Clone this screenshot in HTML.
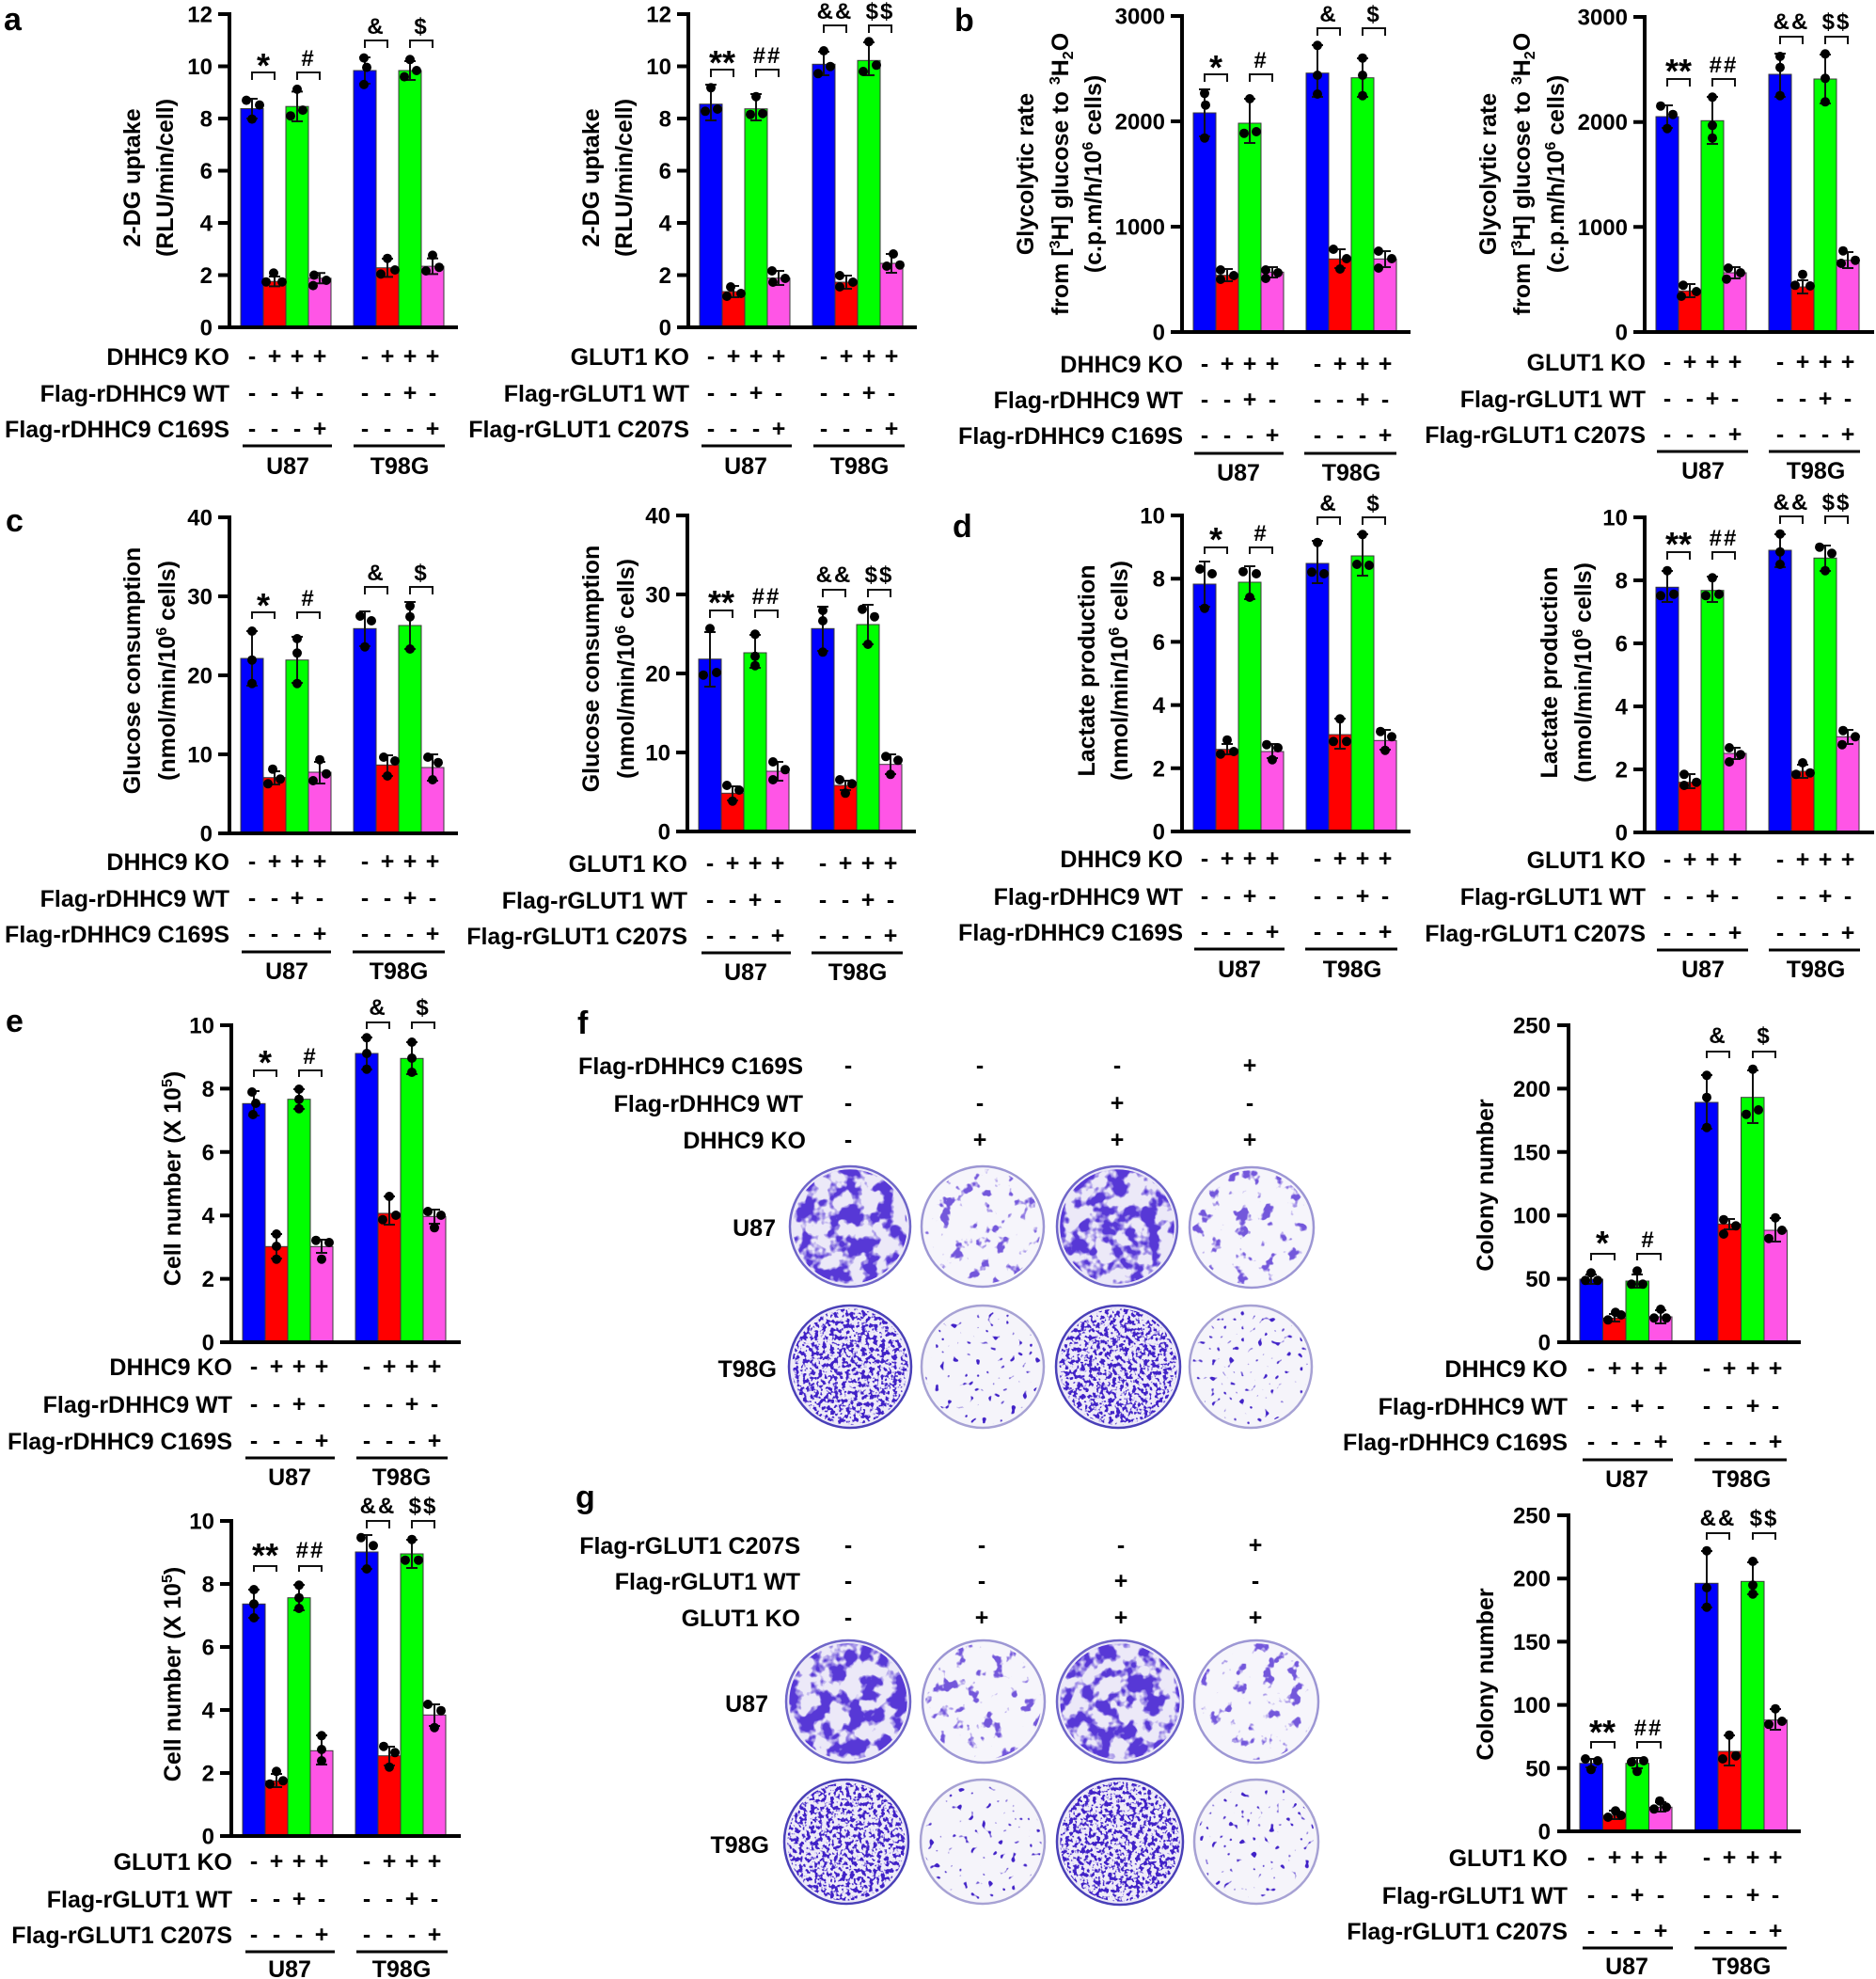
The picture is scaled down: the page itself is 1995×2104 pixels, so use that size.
<!DOCTYPE html>
<html><head><meta charset="utf-8">
<style>
html,body{margin:0;padding:0;background:#fff;}
svg{display:block;}
text{font-family:"Liberation Sans",Arial,sans-serif;font-weight:bold;fill:#000;}
.tk{font-size:24px;text-anchor:end;}
.lb{font-size:25px;text-anchor:end;}
.sg{font-size:25px;text-anchor:middle;}
.cl{font-size:25px;text-anchor:middle;}
.tt{font-size:25px;text-anchor:middle;}
.st{font-size:36px;text-anchor:middle;}
.sy{font-size:24px;text-anchor:middle;letter-spacing:2px;}
.pl{font-size:34px;}
.bar{stroke:#3a3a3a;stroke-width:1;}
.b{fill:#0000ff;}.r{fill:#ff0000;}.g{fill:#00ff00;}.p{fill:#ff55e6;}
.eb{stroke:#111;stroke-width:2;fill:none;}
.ax{stroke:#000;stroke-width:4;fill:none;}
.ul{stroke:#000;stroke-width:3;fill:none;}
.br{stroke:#111;stroke-width:2;fill:none;}
circle.d{fill:#000;}
</style></head>
<body>
<svg width="1995" height="2104" viewBox="0 0 1995 2104" xmlns="http://www.w3.org/2000/svg">
<defs>
<clipPath id="ell" clipPathUnits="objectBoundingBox"><ellipse cx="0.5" cy="0.5" rx="0.475" ry="0.475"/></clipPath>
<filter id="fud" x="-5%" y="-5%" width="110%" height="110%" color-interpolation-filters="sRGB">
<feTurbulence type="fractalNoise" baseFrequency="0.06" numOctaves="3" seed="4"/>
<feColorMatrix type="matrix" values="0 0 0 0 0.34  0 0 0 0 0.22  0 0 0 0 0.84  7 0 0 0 -3.1"/>
</filter>
<filter id="fus" x="-5%" y="-5%" width="110%" height="110%" color-interpolation-filters="sRGB">
<feTurbulence type="fractalNoise" baseFrequency="0.07" numOctaves="3" seed="9"/>
<feColorMatrix type="matrix" values="0 0 0 0 0.45  0 0 0 0 0.34  0 0 0 0 0.86  10 0 0 0 -6.0"/>
</filter>
<filter id="ftd" x="-5%" y="-5%" width="110%" height="110%" color-interpolation-filters="sRGB">
<feTurbulence type="fractalNoise" baseFrequency="0.24" numOctaves="2" seed="3"/>
<feColorMatrix type="matrix" values="0 0 0 0 0.25  0 0 0 0 0.13  0 0 0 0 0.78  10 0 0 0 -4.9"/>
</filter>
<filter id="fts" x="-5%" y="-5%" width="110%" height="110%" color-interpolation-filters="sRGB">
<feTurbulence type="fractalNoise" baseFrequency="0.16" numOctaves="1" seed="7"/>
<feColorMatrix type="matrix" values="0 0 0 0 0.25  0 0 0 0 0.13  0 0 0 0 0.78  16 0 0 0 -10.4"/>
</filter>
</defs>

<!-- panel letters -->
<text class="pl" x="4" y="32">a</text>
<text class="pl" x="1015" y="33">b</text>
<text class="pl" x="6" y="565">c</text>
<text class="pl" x="1013" y="571">d</text>
<text class="pl" x="6" y="1097">e</text>
<text class="pl" x="614" y="1099">f</text>
<text class="pl" x="612" y="1603">g</text>

<!-- ================= a1 ================= -->
<rect class="bar b" x="256" y="115.5" width="24" height="232.5"/>
<rect class="bar r" x="280" y="299.2" width="24" height="48.8"/>
<rect class="bar g" x="304" y="113.2" width="24" height="234.8"/>
<rect class="bar p" x="328" y="295.8" width="24" height="52.2"/>
<rect class="bar b" x="376" y="75" width="24" height="273"/>
<rect class="bar r" x="400" y="284.7" width="24" height="63.3"/>
<rect class="bar g" x="424" y="75" width="24" height="273"/>
<rect class="bar p" x="448" y="283.1" width="24" height="64.9"/>
<path class="eb" d="M268,126V105M262,105h12M262,126h12M292,304.4V294M286,294h12M286,304.4h12M316,129V97.4M310,97.4h12M310,129h12M340,301.3V290.3M334,290.3h12M334,301.3h12M388,89V61M382,61h12M382,89h12M412,294.4V275M406,275h12M406,294.4h12M436,85V65M430,65h12M430,85h12M460,291.4V274.8M454,274.8h12M454,291.4h12"/>
<circle class="d" cx="262" cy="106.6" r="5"/><circle class="d" cx="276" cy="111.6" r="5"/><circle class="d" cx="268" cy="126.6" r="5"/>
<circle class="d" cx="283" cy="299.7" r="5"/><circle class="d" cx="291" cy="290.3" r="5"/><circle class="d" cx="300" cy="299.7" r="5"/>
<circle class="d" cx="309" cy="123.2" r="5"/><circle class="d" cx="322" cy="117.1" r="5"/><circle class="d" cx="316" cy="94.9" r="5"/>
<circle class="d" cx="333" cy="303.6" r="5"/><circle class="d" cx="334" cy="292.5" r="5"/><circle class="d" cx="347" cy="298" r="5"/>
<circle class="d" cx="387" cy="61.6" r="5"/><circle class="d" cx="390" cy="71.6" r="5"/><circle class="d" cx="387" cy="89.9" r="5"/>
<circle class="d" cx="412" cy="274.7" r="5"/><circle class="d" cx="405" cy="291.4" r="5"/><circle class="d" cx="420" cy="287" r="5"/>
<circle class="d" cx="436" cy="63.3" r="5"/><circle class="d" cx="430" cy="81.6" r="5"/><circle class="d" cx="443" cy="75" r="5"/>
<circle class="d" cx="460" cy="271.4" r="5"/><circle class="d" cx="453" cy="288" r="5"/><circle class="d" cx="467" cy="284.2" r="5"/>
<path class="ax" d="M244,13V350M232,348H487M232,15H244M232,70.5H244M232,126H244M232,181.5H244M232,237H244M232,292.5H244"/>
<text class="tk" x="226" y="23.5">12</text><text class="tk" x="226" y="79">10</text><text class="tk" x="226" y="134.5">8</text><text class="tk" x="226" y="190">6</text><text class="tk" x="226" y="245.5">4</text><text class="tk" x="226" y="301">2</text><text class="tk" x="226" y="356.5">0</text>
<path class="br" d="M268,85V77H292V85M316,85V77H340V85M388,51V43H412V51M436,51V43H460V51"/>
<text class="st" x="280" y="82">*</text><text class="sy" x="328" y="70">#</text><text class="sy" x="400" y="36">&amp;</text><text class="sy" x="448" y="36">$</text>
<text class="tt" transform="translate(149,189) rotate(-90)">2-DG uptake</text>
<text class="tt" transform="translate(184,189) rotate(-90)">(RLU/min/cell)</text>
<text class="lb" x="244" y="388">DHHC9 KO</text>
<text class="lb" x="244" y="427">Flag-rDHHC9 WT</text>
<text class="lb" x="244" y="465">Flag-rDHHC9 C169S</text>
<text class="sg" x="268 292 316 340 388 412 436 460" y="387">-+++-+++</text>
<text class="sg" x="268 292 316 340 388 412 436 460" y="426">--+---+-</text>
<text class="sg" x="268 292 316 340 388 412 436 460" y="464">---+---+</text>
<path class="ul" d="M258,474H353M376,474H473"/>
<text class="cl" x="306" y="504">U87</text><text class="cl" x="425" y="504">T98G</text>

<!-- ================= a2 ================= -->
<rect class="bar b" x="744" y="110.7" width="24" height="237.3"/>
<rect class="bar r" x="768" y="310" width="24" height="38"/>
<rect class="bar g" x="792" y="115.7" width="24" height="232.3"/>
<rect class="bar p" x="816" y="295.7" width="24" height="52.3"/>
<rect class="bar b" x="864" y="68.3" width="24" height="279.7"/>
<rect class="bar r" x="888" y="300" width="24" height="48"/>
<rect class="bar g" x="912" y="64.3" width="24" height="283.7"/>
<rect class="bar p" x="936" y="280" width="24" height="68"/>
<path class="eb" d="M756,128V90M750,90h12M750,128h12M780,316V304M774,304h12M774,316h12M804,128V100M798,100h12M798,128h12M828,303V288M822,288h12M822,303h12M876,80V55M870,55h12M870,80h12M900,307V293M894,293h12M894,307h12M924,80V45M918,45h12M918,80h12M948,290V270M942,270h12M942,290h12"/>
<circle class="d" cx="756" cy="93.3" r="5"/><circle class="d" cx="750" cy="118.3" r="5"/><circle class="d" cx="763" cy="116" r="5"/>
<circle class="d" cx="773" cy="315" r="5"/><circle class="d" cx="777" cy="305" r="5"/><circle class="d" cx="788" cy="312" r="5"/>
<circle class="d" cx="804" cy="102.7" r="5"/><circle class="d" cx="798" cy="121.7" r="5"/><circle class="d" cx="811" cy="120.7" r="5"/>
<circle class="d" cx="821" cy="288" r="5"/><circle class="d" cx="822" cy="300" r="5"/><circle class="d" cx="835" cy="296" r="5"/>
<circle class="d" cx="876" cy="54" r="5"/><circle class="d" cx="870" cy="78.3" r="5"/><circle class="d" cx="883" cy="70.7" r="5"/>
<circle class="d" cx="893" cy="293" r="5"/><circle class="d" cx="893" cy="305" r="5"/><circle class="d" cx="907" cy="300" r="5"/>
<circle class="d" cx="924" cy="44.3" r="5"/><circle class="d" cx="918" cy="76" r="5"/><circle class="d" cx="932" cy="69.3" r="5"/>
<circle class="d" cx="950" cy="270" r="5"/><circle class="d" cx="943" cy="283" r="5"/><circle class="d" cx="957" cy="281.7" r="5"/>
<path class="ax" d="M732,13V350M720,348H975M720,15H732M720,70.5H732M720,126H732M720,181.5H732M720,237H732M720,292.5H732"/>
<text class="tk" x="714" y="23.5">12</text><text class="tk" x="714" y="79">10</text><text class="tk" x="714" y="134.5">8</text><text class="tk" x="714" y="190">6</text><text class="tk" x="714" y="245.5">4</text><text class="tk" x="714" y="301">2</text><text class="tk" x="714" y="356.5">0</text>
<path class="br" d="M756,82V74H780V82M804,82V74H828V82M876,35V27H900V35M924,35V27H948V35"/>
<text class="st" x="768" y="79">**</text><text class="sy" x="816" y="67">##</text><text class="sy" x="888" y="20">&amp;&amp;</text><text class="sy" x="936" y="20">$$</text>
<text class="tt" transform="translate(637,189) rotate(-90)">2-DG uptake</text>
<text class="tt" transform="translate(672,189) rotate(-90)">(RLU/min/cell)</text>
<text class="lb" x="733" y="388">GLUT1 KO</text>
<text class="lb" x="733" y="427">Flag-rGLUT1 WT</text>
<text class="lb" x="733" y="465">Flag-rGLUT1 C207S</text>
<text class="sg" x="756 780 804 828 876 900 924 948" y="387">-+++-+++</text>
<text class="sg" x="756 780 804 828 876 900 924 948" y="426">--+---+-</text>
<text class="sg" x="756 780 804 828 876 900 924 948" y="464">---+---+</text>
<path class="ul" d="M746,474H842M865,474H962"/>
<text class="cl" x="793" y="504">U87</text><text class="cl" x="914" y="504">T98G</text>

<!-- ================= b1 ================= -->
<rect class="bar b" x="1269" y="120" width="24" height="233"/>
<rect class="bar r" x="1293" y="292.7" width="24" height="60.3"/>
<rect class="bar g" x="1317" y="131" width="24" height="222"/>
<rect class="bar p" x="1341" y="289.3" width="24" height="63.7"/>
<rect class="bar b" x="1389" y="77.7" width="24" height="275.3"/>
<rect class="bar r" x="1413" y="275.3" width="24" height="77.7"/>
<rect class="bar g" x="1437" y="82.7" width="24" height="270.3"/>
<rect class="bar p" x="1461" y="275.3" width="24" height="77.7"/>
<path class="eb" d="M1281,145V95M1275,95h12M1275,145h12M1305,299V286M1299,286h12M1299,299h12M1329,152V105M1323,105h12M1323,152h12M1353,295V284M1347,284h12M1347,295h12M1401,103V48M1395,48h12M1395,103h12M1425,285V265M1419,265h12M1419,285h12M1449,103V62M1443,62h12M1443,103h12M1473,284V267M1467,267h12M1467,284h12"/>
<circle class="d" cx="1281" cy="99.3" r="5"/><circle class="d" cx="1282" cy="111.7" r="5"/><circle class="d" cx="1281" cy="146.7" r="5"/>
<circle class="d" cx="1298" cy="287" r="5"/><circle class="d" cx="1298" cy="297" r="5"/><circle class="d" cx="1312" cy="293" r="5"/>
<circle class="d" cx="1329" cy="105" r="5"/><circle class="d" cx="1323" cy="141.7" r="5"/><circle class="d" cx="1336" cy="140" r="5"/>
<circle class="d" cx="1346" cy="287" r="5"/><circle class="d" cx="1346" cy="296" r="5"/><circle class="d" cx="1359" cy="290" r="5"/>
<circle class="d" cx="1401" cy="48.3" r="5"/><circle class="d" cx="1401" cy="80" r="5"/><circle class="d" cx="1401" cy="100" r="5"/>
<circle class="d" cx="1418" cy="265" r="5"/><circle class="d" cx="1425" cy="286" r="5"/><circle class="d" cx="1432" cy="275" r="5"/>
<circle class="d" cx="1449" cy="61.7" r="5"/><circle class="d" cx="1449" cy="80" r="5"/><circle class="d" cx="1449" cy="101.7" r="5"/>
<circle class="d" cx="1466" cy="267" r="5"/><circle class="d" cx="1466" cy="285" r="5"/><circle class="d" cx="1480" cy="275" r="5"/>
<path class="ax" d="M1257,15V355M1245,353H1500M1245,17H1257M1245,129H1257M1245,241H1257"/>
<text class="tk" x="1239" y="25.5">3000</text><text class="tk" x="1239" y="137.5">2000</text><text class="tk" x="1239" y="249.5">1000</text><text class="tk" x="1239" y="361.5">0</text>
<path class="br" d="M1281,87V79H1305V87M1329,87V79H1353V87M1401,38V30H1425V38M1449,38V30H1473V38"/>
<text class="st" x="1293" y="84">*</text><text class="sy" x="1341" y="72">#</text><text class="sy" x="1413" y="23">&amp;</text><text class="sy" x="1461" y="23">$</text>
<text class="tt" transform="translate(1099,185) rotate(-90)">Glycolytic rate</text>
<text class="tt" transform="translate(1136,185) rotate(-90)">from [<tspan dy="-9" font-size="16">3</tspan><tspan dy="9">H] glucose to </tspan><tspan dy="-9" font-size="16">3</tspan><tspan dy="9">H</tspan><tspan dy="5" font-size="16">2</tspan><tspan dy="-5">O</tspan></text>
<text class="tt" transform="translate(1171,185) rotate(-90)">(c.p.m/h/10<tspan dy="-9" font-size="16">6</tspan><tspan dy="9"> cells)</tspan></text>
<text class="lb" x="1258" y="396">DHHC9 KO</text>
<text class="lb" x="1258" y="434">Flag-rDHHC9 WT</text>
<text class="lb" x="1258" y="472">Flag-rDHHC9 C169S</text>
<text class="sg" x="1281 1305 1329 1353 1401 1425 1449 1473" y="395">-+++-+++</text>
<text class="sg" x="1281 1305 1329 1353 1401 1425 1449 1473" y="433">--+---+-</text>
<text class="sg" x="1281 1305 1329 1353 1401 1425 1449 1473" y="471">---+---+</text>
<path class="ul" d="M1270,482H1365M1387,482H1485"/>
<text class="cl" x="1317" y="511">U87</text><text class="cl" x="1437" y="511">T98G</text>

<!-- ================= b2 ================= -->
<rect class="bar b" x="1761" y="124" width="24" height="229"/>
<rect class="bar r" x="1785" y="309.3" width="24" height="43.7"/>
<rect class="bar g" x="1809" y="128.3" width="24" height="224.7"/>
<rect class="bar p" x="1833" y="290" width="24" height="63"/>
<rect class="bar b" x="1881" y="79" width="24" height="274"/>
<rect class="bar r" x="1905" y="305" width="24" height="48"/>
<rect class="bar g" x="1929" y="84" width="24" height="269"/>
<rect class="bar p" x="1953" y="276.7" width="24" height="76.3"/>
<path class="eb" d="M1773,136V112M1767,112h12M1767,136h12M1797,316V302M1791,302h12M1791,316h12M1821,153V103M1815,103h12M1815,153h12M1845,296V284M1839,284h12M1839,296h12M1893,103V57M1887,57h12M1887,103h12M1917,312V298M1911,298h12M1911,312h12M1941,110V58M1935,58h12M1935,110h12M1965,285V268M1959,268h12M1959,285h12"/>
<circle class="d" cx="1766" cy="112.7" r="5"/><circle class="d" cx="1779" cy="121.7" r="5"/><circle class="d" cx="1773" cy="136.7" r="5"/>
<circle class="d" cx="1790" cy="303.3" r="5"/><circle class="d" cx="1788" cy="315" r="5"/><circle class="d" cx="1804" cy="310" r="5"/>
<circle class="d" cx="1821" cy="103.3" r="5"/><circle class="d" cx="1821" cy="133.3" r="5"/><circle class="d" cx="1821" cy="146.7" r="5"/>
<circle class="d" cx="1838" cy="285" r="5"/><circle class="d" cx="1836" cy="296.7" r="5"/><circle class="d" cx="1851" cy="290" r="5"/>
<circle class="d" cx="1893" cy="60" r="5"/><circle class="d" cx="1893" cy="71.7" r="5"/><circle class="d" cx="1893" cy="101.7" r="5"/>
<circle class="d" cx="1917" cy="291.7" r="5"/><circle class="d" cx="1909" cy="303.3" r="5"/><circle class="d" cx="1925" cy="304" r="5"/>
<circle class="d" cx="1941" cy="57.3" r="5"/><circle class="d" cx="1941" cy="83.3" r="5"/><circle class="d" cx="1941" cy="108.3" r="5"/>
<circle class="d" cx="1960" cy="266.7" r="5"/><circle class="d" cx="1958" cy="280" r="5"/><circle class="d" cx="1973" cy="276.7" r="5"/>
<path class="ax" d="M1749,16V355M1737,353H1993M1737,18H1749M1737,129.7H1749M1737,241.3H1749"/>
<text class="tk" x="1731" y="26.5">3000</text><text class="tk" x="1731" y="138">2000</text><text class="tk" x="1731" y="250">1000</text><text class="tk" x="1731" y="361.5">0</text>
<path class="br" d="M1773,92V84H1797V92M1821,92V84H1845V92M1893,47V39H1917V47M1941,47V39H1965V47"/>
<text class="st" x="1785" y="88">**</text><text class="sy" x="1833" y="77">##</text><text class="sy" x="1905" y="31">&amp;&amp;</text><text class="sy" x="1953" y="31">$$</text>
<text class="tt" transform="translate(1591,185) rotate(-90)">Glycolytic rate</text>
<text class="tt" transform="translate(1627,185) rotate(-90)">from [<tspan dy="-9" font-size="16">3</tspan><tspan dy="9">H] glucose to </tspan><tspan dy="-9" font-size="16">3</tspan><tspan dy="9">H</tspan><tspan dy="5" font-size="16">2</tspan><tspan dy="-5">O</tspan></text>
<text class="tt" transform="translate(1663,185) rotate(-90)">(c.p.m/h/10<tspan dy="-9" font-size="16">6</tspan><tspan dy="9"> cells)</tspan></text>
<text class="lb" x="1750" y="394">GLUT1 KO</text>
<text class="lb" x="1750" y="433">Flag-rGLUT1 WT</text>
<text class="lb" x="1750" y="471">Flag-rGLUT1 C207S</text>
<text class="sg" x="1773 1797 1821 1845 1893 1917 1941 1965" y="393">-+++-+++</text>
<text class="sg" x="1773 1797 1821 1845 1893 1917 1941 1965" y="432">--+---+-</text>
<text class="sg" x="1773 1797 1821 1845 1893 1917 1941 1965" y="470">---+---+</text>
<path class="ul" d="M1762,480H1859M1881,480H1978"/>
<text class="cl" x="1811" y="509">U87</text><text class="cl" x="1931" y="509">T98G</text>

<!-- ================= c1 ================= -->
<rect class="bar b" x="256" y="700" width="24" height="186"/>
<rect class="bar r" x="280" y="826.7" width="24" height="59.3"/>
<rect class="bar g" x="304" y="701.7" width="24" height="184.3"/>
<rect class="bar p" x="328" y="821" width="24" height="65"/>
<rect class="bar b" x="376" y="668.3" width="24" height="217.7"/>
<rect class="bar r" x="400" y="813.3" width="24" height="72.7"/>
<rect class="bar g" x="424" y="665" width="24" height="221"/>
<rect class="bar p" x="448" y="816" width="24" height="70"/>
<path class="eb" d="M268,729V671M262,671h12M262,729h12M292,834V820M286,820h12M286,834h12M316,726V677M310,677h12M310,726h12M340,833V810M334,810h12M334,833h12M388,687V650M382,650h12M382,687h12M412,825V803M406,803h12M406,825h12M436,690V640M430,640h12M430,690h12M460,830V802M454,802h12M454,830h12"/>
<circle class="d" cx="268" cy="671" r="5"/><circle class="d" cx="268" cy="701.7" r="5"/><circle class="d" cx="268" cy="726.7" r="5"/>
<circle class="d" cx="290" cy="817.7" r="5"/><circle class="d" cx="285" cy="833.3" r="5"/><circle class="d" cx="298" cy="828.3" r="5"/>
<circle class="d" cx="316" cy="679" r="5"/><circle class="d" cx="316" cy="694.3" r="5"/><circle class="d" cx="316" cy="726.7" r="5"/>
<circle class="d" cx="340" cy="807.7" r="5"/><circle class="d" cx="333" cy="830" r="5"/><circle class="d" cx="347" cy="822.7" r="5"/>
<circle class="d" cx="383" cy="655" r="5"/><circle class="d" cx="395" cy="660" r="5"/><circle class="d" cx="388" cy="687.7" r="5"/>
<circle class="d" cx="408" cy="805" r="5"/><circle class="d" cx="420" cy="809" r="5"/><circle class="d" cx="412" cy="825" r="5"/>
<circle class="d" cx="436" cy="644.3" r="5"/><circle class="d" cx="436" cy="655.7" r="5"/><circle class="d" cx="436" cy="690" r="5"/>
<circle class="d" cx="455" cy="805" r="5"/><circle class="d" cx="466" cy="810.7" r="5"/><circle class="d" cx="460" cy="829" r="5"/>
<path class="ax" d="M244,548V888M232,886H487M232,550H244M232,634H244M232,718H244M232,802H244"/>
<text class="tk" x="226" y="558.5">40</text><text class="tk" x="226" y="642.5">30</text><text class="tk" x="226" y="726.5">20</text><text class="tk" x="226" y="810.5">10</text><text class="tk" x="226" y="894.5">0</text>
<path class="br" d="M268,658V651H292V658M316,658V651H340V658M388,632V624H412V632M436,632V624H460V632"/>
<text class="st" x="280" y="656">*</text><text class="sy" x="328" y="644">#</text><text class="sy" x="400" y="617">&amp;</text><text class="sy" x="448" y="617">$</text>
<text class="tt" transform="translate(149,713) rotate(-90)">Glucose consumption</text>
<text class="tt" transform="translate(186,713) rotate(-90)">(nmol/min/10<tspan dy="-9" font-size="16">6</tspan><tspan dy="9"> cells)</tspan></text>
<text class="lb" x="244" y="925">DHHC9 KO</text>
<text class="lb" x="244" y="964">Flag-rDHHC9 WT</text>
<text class="lb" x="244" y="1002">Flag-rDHHC9 C169S</text>
<text class="sg" x="268 292 316 340 388 412 436 460" y="924">-+++-+++</text>
<text class="sg" x="268 292 316 340 388 412 436 460" y="963">--+---+-</text>
<text class="sg" x="268 292 316 340 388 412 436 460" y="1001">---+---+</text>
<path class="ul" d="M257,1012H352M375,1012H473"/>
<text class="cl" x="305" y="1041">U87</text><text class="cl" x="424" y="1041">T98G</text>

<!-- ================= c2 ================= -->
<rect class="bar b" x="743" y="700.7" width="24" height="183.3"/>
<rect class="bar r" x="767" y="843.3" width="24" height="40.7"/>
<rect class="bar g" x="791" y="694" width="24" height="190"/>
<rect class="bar p" x="815" y="820" width="24" height="64"/>
<rect class="bar b" x="863" y="668.3" width="24" height="215.7"/>
<rect class="bar r" x="887" y="835" width="24" height="49"/>
<rect class="bar g" x="911" y="664" width="24" height="220"/>
<rect class="bar p" x="935" y="812.7" width="24" height="71.3"/>
<path class="eb" d="M755,730V672M749,672h12M749,730h12M779,851V836M773,836h12M773,851h12M803,710V675M797,675h12M797,710h12M827,830V810M821,810h12M821,830h12M875,692V645M869,645h12M869,692h12M899,840V830M893,830h12M893,840h12M923,685V643M917,643h12M917,685h12M947,823V802M941,802h12M941,823h12"/>
<circle class="d" cx="755" cy="668.3" r="5"/><circle class="d" cx="748" cy="717.7" r="5"/><circle class="d" cx="762" cy="715" r="5"/>
<circle class="d" cx="773" cy="835" r="5"/><circle class="d" cx="786" cy="840" r="5"/><circle class="d" cx="779" cy="851.7" r="5"/>
<circle class="d" cx="803" cy="674.3" r="5"/><circle class="d" cx="803" cy="697.7" r="5"/><circle class="d" cx="803" cy="707.7" r="5"/>
<circle class="d" cx="822" cy="810" r="5"/><circle class="d" cx="835" cy="818.3" r="5"/><circle class="d" cx="822" cy="829" r="5"/>
<circle class="d" cx="875" cy="649" r="5"/><circle class="d" cx="875" cy="660" r="5"/><circle class="d" cx="875" cy="693.3" r="5"/>
<circle class="d" cx="893" cy="829" r="5"/><circle class="d" cx="906" cy="833.3" r="5"/><circle class="d" cx="899" cy="843.3" r="5"/>
<circle class="d" cx="917" cy="647.7" r="5"/><circle class="d" cx="930" cy="655.7" r="5"/><circle class="d" cx="923" cy="685" r="5"/>
<circle class="d" cx="942" cy="804.3" r="5"/><circle class="d" cx="955" cy="808.3" r="5"/><circle class="d" cx="947" cy="823.3" r="5"/>
<path class="ax" d="M731,546V886M719,884H974M719,548H731M719,632H731M719,716H731M719,800H731"/>
<text class="tk" x="713" y="556.5">40</text><text class="tk" x="713" y="640.5">30</text><text class="tk" x="713" y="724.5">20</text><text class="tk" x="713" y="808.5">10</text><text class="tk" x="713" y="892.5">0</text>
<path class="br" d="M755,657V649H779V657M803,657V649H827V657M875,635V627H899V635M923,635V627H947V635"/>
<text class="st" x="767" y="653">**</text><text class="sy" x="815" y="642">##</text><text class="sy" x="887" y="619">&amp;&amp;</text><text class="sy" x="935" y="619">$$</text>
<text class="tt" transform="translate(637,711) rotate(-90)">Glucose consumption</text>
<text class="tt" transform="translate(674,711) rotate(-90)">(nmol/min/10<tspan dy="-9" font-size="16">6</tspan><tspan dy="9"> cells)</tspan></text>
<text class="lb" x="731" y="927">GLUT1 KO</text>
<text class="lb" x="731" y="966">Flag-rGLUT1 WT</text>
<text class="lb" x="731" y="1004">Flag-rGLUT1 C207S</text>
<text class="sg" x="755 779 803 827 875 899 923 947" y="926">-+++-+++</text>
<text class="sg" x="755 779 803 827 875 899 923 947" y="965">--+---+-</text>
<text class="sg" x="755 779 803 827 875 899 923 947" y="1003">---+---+</text>
<path class="ul" d="M746,1013H841M863,1013H960"/>
<text class="cl" x="793" y="1042">U87</text><text class="cl" x="912" y="1042">T98G</text>

<!-- ================= d1 ================= -->
<rect class="bar b" x="1269" y="621" width="24" height="263"/>
<rect class="bar r" x="1293" y="796.7" width="24" height="87.3"/>
<rect class="bar g" x="1317" y="619" width="24" height="265"/>
<rect class="bar p" x="1341" y="799" width="24" height="85"/>
<rect class="bar b" x="1389" y="599" width="24" height="285"/>
<rect class="bar r" x="1413" y="781" width="24" height="103"/>
<rect class="bar g" x="1437" y="591" width="24" height="293"/>
<rect class="bar p" x="1461" y="787.3" width="24" height="96.7"/>
<path class="eb" d="M1281,645V597M1275,597h12M1275,645h12M1305,802V791M1299,791h12M1299,802h12M1329,637V602M1323,602h12M1323,637h12M1353,806V791M1347,791h12M1347,806h12M1401,620V575M1395,575h12M1395,620h12M1425,796V764M1419,764h12M1419,796h12M1449,612V568M1443,568h12M1443,612h12M1473,797V776M1467,776h12M1467,797h12"/>
<circle class="d" cx="1276" cy="605" r="5"/><circle class="d" cx="1289" cy="610" r="5"/><circle class="d" cx="1281" cy="646.7" r="5"/>
<circle class="d" cx="1305" cy="786.7" r="5"/><circle class="d" cx="1298" cy="801.7" r="5"/><circle class="d" cx="1312" cy="799" r="5"/>
<circle class="d" cx="1322" cy="607.7" r="5"/><circle class="d" cx="1336" cy="610" r="5"/><circle class="d" cx="1329" cy="635" r="5"/>
<circle class="d" cx="1347" cy="791.7" r="5"/><circle class="d" cx="1359" cy="795" r="5"/><circle class="d" cx="1353" cy="807.7" r="5"/>
<circle class="d" cx="1401" cy="576.7" r="5"/><circle class="d" cx="1395" cy="608.3" r="5"/><circle class="d" cx="1408" cy="610" r="5"/>
<circle class="d" cx="1425" cy="764.3" r="5"/><circle class="d" cx="1418" cy="788.3" r="5"/><circle class="d" cx="1432" cy="788.3" r="5"/>
<circle class="d" cx="1449" cy="568.3" r="5"/><circle class="d" cx="1443" cy="600" r="5"/><circle class="d" cx="1456" cy="601" r="5"/>
<circle class="d" cx="1468" cy="777.7" r="5"/><circle class="d" cx="1480" cy="783.3" r="5"/><circle class="d" cx="1473" cy="797.7" r="5"/>
<path class="ax" d="M1257,546V886M1245,884H1500M1245,548H1257M1245,615.2H1257M1245,682.4H1257M1245,749.6H1257M1245,816.8H1257"/>
<text class="tk" x="1239" y="556.5">10</text><text class="tk" x="1239" y="623.7">8</text><text class="tk" x="1239" y="690.9">6</text><text class="tk" x="1239" y="758.1">4</text><text class="tk" x="1239" y="825.3">2</text><text class="tk" x="1239" y="892.5">0</text>
<path class="br" d="M1281,589V582H1305V589M1329,589V582H1353V589M1401,558V550H1425V558M1449,558V550H1473V558"/>
<text class="st" x="1293" y="586">*</text><text class="sy" x="1341" y="575">#</text><text class="sy" x="1413" y="543">&amp;</text><text class="sy" x="1461" y="543">$</text>
<text class="tt" transform="translate(1164,713) rotate(-90)">Lactate production</text>
<text class="tt" transform="translate(1199,713) rotate(-90)">(nmol/min/10<tspan dy="-9" font-size="16">6</tspan><tspan dy="9"> cells)</tspan></text>
<text class="lb" x="1258" y="922">DHHC9 KO</text>
<text class="lb" x="1258" y="962">Flag-rDHHC9 WT</text>
<text class="lb" x="1258" y="1000">Flag-rDHHC9 C169S</text>
<text class="sg" x="1281 1305 1329 1353 1401 1425 1449 1473" y="921">-+++-+++</text>
<text class="sg" x="1281 1305 1329 1353 1401 1425 1449 1473" y="961">--+---+-</text>
<text class="sg" x="1281 1305 1329 1353 1401 1425 1449 1473" y="999">---+---+</text>
<path class="ul" d="M1270,1009H1366M1388,1009H1486"/>
<text class="cl" x="1318" y="1039">U87</text><text class="cl" x="1438" y="1039">T98G</text>

<!-- ================= d2 ================= -->
<rect class="bar b" x="1761" y="624.3" width="24" height="260.7"/>
<rect class="bar r" x="1785" y="831.7" width="24" height="53.3"/>
<rect class="bar g" x="1809" y="627.7" width="24" height="257.3"/>
<rect class="bar p" x="1833" y="801" width="24" height="84"/>
<rect class="bar b" x="1881" y="585" width="24" height="300"/>
<rect class="bar r" x="1905" y="820" width="24" height="65"/>
<rect class="bar g" x="1929" y="593.3" width="24" height="291.7"/>
<rect class="bar p" x="1953" y="783.3" width="24" height="101.7"/>
<path class="eb" d="M1773,640V607M1767,607h12M1767,640h12M1797,838V823M1791,823h12M1791,838h12M1821,640V613M1815,613h12M1815,640h12M1845,807V795M1839,795h12M1839,807h12M1893,603V568M1887,568h12M1887,603h12M1917,827V813M1911,813h12M1911,827h12M1941,607V580M1935,580h12M1935,607h12M1965,791V776M1959,776h12M1959,791h12"/>
<circle class="d" cx="1773" cy="606.7" r="5"/><circle class="d" cx="1766" cy="633.3" r="5"/><circle class="d" cx="1780" cy="631.7" r="5"/>
<circle class="d" cx="1791" cy="823.3" r="5"/><circle class="d" cx="1791" cy="835" r="5"/><circle class="d" cx="1804" cy="831.7" r="5"/>
<circle class="d" cx="1821" cy="614.3" r="5"/><circle class="d" cx="1814" cy="633.3" r="5"/><circle class="d" cx="1828" cy="631.7" r="5"/>
<circle class="d" cx="1839" cy="795" r="5"/><circle class="d" cx="1839" cy="810" r="5"/><circle class="d" cx="1851" cy="802.3" r="5"/>
<circle class="d" cx="1893" cy="567.7" r="5"/><circle class="d" cx="1893" cy="586.7" r="5"/><circle class="d" cx="1893" cy="600" r="5"/>
<circle class="d" cx="1917" cy="811" r="5"/><circle class="d" cx="1910" cy="823.3" r="5"/><circle class="d" cx="1925" cy="821.7" r="5"/>
<circle class="d" cx="1935" cy="581.7" r="5"/><circle class="d" cx="1948" cy="588.3" r="5"/><circle class="d" cx="1941" cy="606.7" r="5"/>
<circle class="d" cx="1960" cy="776.7" r="5"/><circle class="d" cx="1959" cy="791.7" r="5"/><circle class="d" cx="1973" cy="783.3" r="5"/>
<path class="ax" d="M1749,548V887M1737,885H1993M1737,550H1749M1737,617H1749M1737,684H1749M1737,751H1749M1737,818H1749"/>
<text class="tk" x="1731" y="558.5">10</text><text class="tk" x="1731" y="625.5">8</text><text class="tk" x="1731" y="692.5">6</text><text class="tk" x="1731" y="759.5">4</text><text class="tk" x="1731" y="826.5">2</text><text class="tk" x="1731" y="893.5">0</text>
<path class="br" d="M1773,595V587H1797V595M1821,595V587H1845V595M1893,557V549H1917V557M1941,557V549H1965V557"/>
<text class="st" x="1785" y="591">**</text><text class="sy" x="1833" y="580">##</text><text class="sy" x="1905" y="542">&amp;&amp;</text><text class="sy" x="1953" y="542">$$</text>
<text class="tt" transform="translate(1656,715) rotate(-90)">Lactate production</text>
<text class="tt" transform="translate(1692,715) rotate(-90)">(nmol/min/10<tspan dy="-9" font-size="16">6</tspan><tspan dy="9"> cells)</tspan></text>
<text class="lb" x="1750" y="923">GLUT1 KO</text>
<text class="lb" x="1750" y="962">Flag-rGLUT1 WT</text>
<text class="lb" x="1750" y="1001">Flag-rGLUT1 C207S</text>
<text class="sg" x="1773 1797 1821 1845 1893 1917 1941 1965" y="922">-+++-+++</text>
<text class="sg" x="1773 1797 1821 1845 1893 1917 1941 1965" y="961">--+---+-</text>
<text class="sg" x="1773 1797 1821 1845 1893 1917 1941 1965" y="1000">---+---+</text>
<path class="ul" d="M1762,1010H1859M1881,1010H1978"/>
<text class="cl" x="1811" y="1039">U87</text><text class="cl" x="1931" y="1039">T98G</text>

<!-- ================= e1 ================= -->
<rect class="bar b" x="258" y="1173.3" width="24" height="253.7"/>
<rect class="bar r" x="282" y="1325.3" width="24" height="101.7"/>
<rect class="bar g" x="306" y="1168.7" width="24" height="258.3"/>
<rect class="bar p" x="330" y="1325.3" width="24" height="101.7"/>
<rect class="bar b" x="378" y="1120" width="24" height="307"/>
<rect class="bar r" x="402" y="1290" width="24" height="137"/>
<rect class="bar g" x="426" y="1125.3" width="24" height="301.7"/>
<rect class="bar p" x="450" y="1293.3" width="24" height="133.7"/>
<path class="eb" d="M270,1186V1160M264,1160h12M264,1186h12M294,1338V1312M288,1312h12M288,1338h12M318,1179V1158M312,1158h12M312,1179h12M342,1332V1318M336,1318h12M336,1332h12M390,1137V1103M384,1103h12M384,1137h12M414,1302V1272M408,1272h12M408,1302h12M438,1142V1108M432,1108h12M432,1142h12M462,1301V1286M456,1286h12M456,1301h12"/>
<circle class="d" cx="268" cy="1161" r="5"/><circle class="d" cx="272" cy="1173" r="5"/><circle class="d" cx="269" cy="1185" r="5"/>
<circle class="d" cx="294" cy="1312" r="5"/><circle class="d" cx="294" cy="1325" r="5"/><circle class="d" cx="294" cy="1338.7" r="5"/>
<circle class="d" cx="318" cy="1158" r="5"/><circle class="d" cx="318" cy="1168.7" r="5"/><circle class="d" cx="318" cy="1178.7" r="5"/>
<circle class="d" cx="336" cy="1318.7" r="5"/><circle class="d" cx="350" cy="1321" r="5"/><circle class="d" cx="342" cy="1338.7" r="5"/>
<circle class="d" cx="390" cy="1103.3" r="5"/><circle class="d" cx="390" cy="1120" r="5"/><circle class="d" cx="390" cy="1136.7" r="5"/>
<circle class="d" cx="414" cy="1272" r="5"/><circle class="d" cx="407" cy="1296.7" r="5"/><circle class="d" cx="421" cy="1292" r="5"/>
<circle class="d" cx="438" cy="1108" r="5"/><circle class="d" cx="438" cy="1125" r="5"/><circle class="d" cx="438" cy="1140" r="5"/>
<circle class="d" cx="455" cy="1288" r="5"/><circle class="d" cx="469" cy="1292" r="5"/><circle class="d" cx="462" cy="1305.3" r="5"/>
<path class="ax" d="M246,1088V1429M234,1427H490M234,1090H246M234,1157.4H246M234,1224.8H246M234,1292.2H246M234,1359.6H246"/>
<text class="tk" x="228" y="1098.5">10</text><text class="tk" x="228" y="1165.9">8</text><text class="tk" x="228" y="1233.3">6</text><text class="tk" x="228" y="1300.7">4</text><text class="tk" x="228" y="1368.1">2</text><text class="tk" x="228" y="1435.5">0</text>
<path class="br" d="M270,1145V1138H294V1145M318,1145V1138H342V1145M390,1094V1087H414V1094M438,1094V1087H462V1094"/>
<text class="st" x="282" y="1142">*</text><text class="sy" x="330" y="1131">#</text><text class="sy" x="402" y="1079">&amp;</text><text class="sy" x="450" y="1079">$</text>
<text class="tt" transform="translate(192,1253) rotate(-90)">Cell number (X 10<tspan dy="-9" font-size="16">5</tspan><tspan dy="9">)</tspan></text>
<text class="lb" x="247" y="1462">DHHC9 KO</text>
<text class="lb" x="247" y="1502">Flag-rDHHC9 WT</text>
<text class="lb" x="247" y="1541">Flag-rDHHC9 C169S</text>
<text class="sg" x="270 294 318 342 390 414 438 462" y="1461">-+++-+++</text>
<text class="sg" x="270 294 318 342 390 414 438 462" y="1501">--+---+-</text>
<text class="sg" x="270 294 318 342 390 414 438 462" y="1540">---+---+</text>
<path class="ul" d="M261,1550H356M379,1550H476"/>
<text class="cl" x="308" y="1579">U87</text><text class="cl" x="427" y="1579">T98G</text>

<!-- ================= e2 ================= -->
<rect class="bar b" x="258" y="1705.3" width="24" height="246.7"/>
<rect class="bar r" x="282" y="1893.3" width="24" height="58.7"/>
<rect class="bar g" x="306" y="1698.7" width="24" height="253.3"/>
<rect class="bar p" x="330" y="1861.3" width="24" height="90.7"/>
<rect class="bar b" x="378" y="1650" width="24" height="302"/>
<rect class="bar r" x="402" y="1866.7" width="24" height="85.3"/>
<rect class="bar g" x="426" y="1652" width="24" height="300"/>
<rect class="bar p" x="450" y="1823.3" width="24" height="128.7"/>
<path class="eb" d="M270,1720V1690M264,1690h12M264,1720h12M294,1900V1886M288,1886h12M288,1900h12M318,1712V1685M312,1685h12M312,1712h12M342,1876V1845M336,1845h12M336,1876h12M390,1668V1632M384,1632h12M384,1668h12M414,1877V1857M408,1857h12M408,1877h12M438,1667V1637M432,1637h12M432,1667h12M462,1835V1812M456,1812h12M456,1835h12"/>
<circle class="d" cx="270" cy="1690" r="5"/><circle class="d" cx="270" cy="1705.3" r="5"/><circle class="d" cx="270" cy="1720" r="5"/>
<circle class="d" cx="294" cy="1883.3" r="5"/><circle class="d" cx="287" cy="1896.7" r="5"/><circle class="d" cx="301" cy="1893.3" r="5"/>
<circle class="d" cx="318" cy="1685.3" r="5"/><circle class="d" cx="318" cy="1698.7" r="5"/><circle class="d" cx="318" cy="1710" r="5"/>
<circle class="d" cx="342" cy="1845.3" r="5"/><circle class="d" cx="342" cy="1860" r="5"/><circle class="d" cx="342" cy="1872" r="5"/>
<circle class="d" cx="384" cy="1634.7" r="5"/><circle class="d" cx="397" cy="1643.3" r="5"/><circle class="d" cx="390" cy="1668" r="5"/>
<circle class="d" cx="408" cy="1856.7" r="5"/><circle class="d" cx="420" cy="1863.3" r="5"/><circle class="d" cx="414" cy="1878.7" r="5"/>
<circle class="d" cx="438" cy="1636.7" r="5"/><circle class="d" cx="431" cy="1658.7" r="5"/><circle class="d" cx="445" cy="1658.7" r="5"/>
<circle class="d" cx="455" cy="1812" r="5"/><circle class="d" cx="469" cy="1818.7" r="5"/><circle class="d" cx="462" cy="1836.7" r="5"/>
<path class="ax" d="M246,1615V1954M234,1952H490M234,1617H246M234,1684H246M234,1751H246M234,1818H246M234,1885H246"/>
<text class="tk" x="228" y="1625.5">10</text><text class="tk" x="228" y="1692.5">8</text><text class="tk" x="228" y="1759.5">6</text><text class="tk" x="228" y="1826.5">4</text><text class="tk" x="228" y="1893.5">2</text><text class="tk" x="228" y="1960.5">0</text>
<path class="br" d="M270,1671V1665H294V1671M318,1671V1665H342V1671M390,1625V1617H414V1625M438,1625V1617H462V1625"/>
<text class="st" x="282" y="1666">**</text><text class="sy" x="330" y="1656">##</text><text class="sy" x="402" y="1609">&amp;&amp;</text><text class="sy" x="450" y="1609">$$</text>
<text class="tt" transform="translate(192,1780) rotate(-90)">Cell number (X 10<tspan dy="-9" font-size="16">5</tspan><tspan dy="9">)</tspan></text>
<text class="lb" x="247" y="1988">GLUT1 KO</text>
<text class="lb" x="247" y="2028">Flag-rGLUT1 WT</text>
<text class="lb" x="247" y="2066">Flag-rGLUT1 C207S</text>
<text class="sg" x="270 294 318 342 390 414 438 462" y="1987">-+++-+++</text>
<text class="sg" x="270 294 318 342 390 414 438 462" y="2027">--+---+-</text>
<text class="sg" x="270 294 318 342 390 414 438 462" y="2065">---+---+</text>
<path class="ul" d="M261,2075H356M379,2075H476"/>
<text class="cl" x="308" y="2102">U87</text><text class="cl" x="427" y="2102">T98G</text>

<!-- ================= f bar ================= -->
<rect class="bar b" x="1680" y="1360" width="24.5" height="67"/>
<rect class="bar r" x="1704.5" y="1401.3" width="24.5" height="25.7"/>
<rect class="bar g" x="1729" y="1362" width="24.5" height="65"/>
<rect class="bar p" x="1753.5" y="1400" width="24.5" height="27"/>
<rect class="bar b" x="1802.5" y="1172" width="24.5" height="255"/>
<rect class="bar r" x="1827" y="1301.3" width="24.5" height="125.7"/>
<rect class="bar g" x="1851.5" y="1166.7" width="24.5" height="260.3"/>
<rect class="bar p" x="1876" y="1308" width="24.5" height="119"/>
<path class="eb" d="M1692,1365V1355M1686,1355h12M1686,1365h12M1717,1405V1397M1711,1397h12M1711,1405h12M1741,1369V1355M1735,1355h12M1735,1369h12M1766,1407V1393M1760,1393h12M1760,1407h12M1815,1200V1143M1809,1143h12M1809,1200h12M1839,1307V1296M1833,1296h12M1833,1307h12M1864,1194V1138M1858,1138h12M1858,1194h12M1888,1320V1295M1882,1295h12M1882,1320h12"/>
<circle class="d" cx="1686" cy="1361.3" r="5"/><circle class="d" cx="1692" cy="1353.3" r="5"/><circle class="d" cx="1699" cy="1361.3" r="5"/>
<circle class="d" cx="1710" cy="1403.3" r="5"/><circle class="d" cx="1718" cy="1395.3" r="5"/><circle class="d" cx="1724" cy="1398" r="5"/>
<circle class="d" cx="1741" cy="1351.3" r="5"/><circle class="d" cx="1735" cy="1365.3" r="5"/><circle class="d" cx="1747" cy="1365.3" r="5"/>
<circle class="d" cx="1766" cy="1392" r="5"/><circle class="d" cx="1759" cy="1401.3" r="5"/><circle class="d" cx="1772" cy="1401.3" r="5"/>
<circle class="d" cx="1815" cy="1143.3" r="5"/><circle class="d" cx="1815" cy="1166.7" r="5"/><circle class="d" cx="1815" cy="1198.7" r="5"/>
<circle class="d" cx="1833" cy="1296.7" r="5"/><circle class="d" cx="1833" cy="1312" r="5"/><circle class="d" cx="1846" cy="1303.3" r="5"/>
<circle class="d" cx="1864" cy="1136.7" r="5"/><circle class="d" cx="1857" cy="1184.7" r="5"/><circle class="d" cx="1870" cy="1180" r="5"/>
<circle class="d" cx="1888" cy="1294.7" r="5"/><circle class="d" cx="1881" cy="1316.7" r="5"/><circle class="d" cx="1895" cy="1308" r="5"/>
<path class="ax" d="M1668,1088V1429M1656,1427H1915M1656,1090H1668M1656,1157.4H1668M1656,1224.8H1668M1656,1292.2H1668M1656,1359.6H1668"/>
<text class="tk" x="1649" y="1098.5">250</text><text class="tk" x="1649" y="1165.9">200</text><text class="tk" x="1649" y="1233.3">150</text><text class="tk" x="1649" y="1300.7">100</text><text class="tk" x="1649" y="1368.1">50</text><text class="tk" x="1649" y="1435.5">0</text>
<path class="br" d="M1692,1340V1333H1717V1340M1741,1340V1333H1766V1340M1815,1125V1118H1839V1125M1864,1125V1118H1888V1125"/>
<text class="st" x="1704" y="1334">*</text><text class="sy" x="1753" y="1326">#</text><text class="sy" x="1827" y="1109">&amp;</text><text class="sy" x="1876" y="1109">$</text>
<text class="tt" transform="translate(1588,1260) rotate(-90)">Colony number</text>
<text class="lb" x="1667" y="1464">DHHC9 KO</text>
<text class="lb" x="1667" y="1504">Flag-rDHHC9 WT</text>
<text class="lb" x="1667" y="1542">Flag-rDHHC9 C169S</text>
<text class="sg" x="1692 1717 1741 1766 1815 1839 1864 1888" y="1463">-+++-+++</text>
<text class="sg" x="1692 1717 1741 1766 1815 1839 1864 1888" y="1503">--+---+-</text>
<text class="sg" x="1692 1717 1741 1766 1815 1839 1864 1888" y="1541">---+---+</text>
<path class="ul" d="M1683,1552H1779M1802,1552H1900"/>
<text class="cl" x="1730" y="1581">U87</text><text class="cl" x="1852" y="1581">T98G</text>

<!-- ================= g bar ================= -->
<rect class="bar b" x="1680" y="1874.7" width="24.5" height="72.3"/>
<rect class="bar r" x="1704.5" y="1930" width="24.5" height="17"/>
<rect class="bar g" x="1729" y="1874.7" width="24.5" height="72.3"/>
<rect class="bar p" x="1753.5" y="1921.3" width="24.5" height="25.7"/>
<rect class="bar b" x="1802.5" y="1683.3" width="24.5" height="263.7"/>
<rect class="bar r" x="1827" y="1862" width="24.5" height="85"/>
<rect class="bar g" x="1851.5" y="1681.3" width="24.5" height="265.7"/>
<rect class="bar p" x="1876" y="1828.7" width="24.5" height="118.3"/>
<path class="eb" d="M1692,1879V1870M1686,1870h12M1686,1879h12M1717,1934V1925M1711,1925h12M1711,1934h12M1741,1880V1869M1735,1869h12M1735,1880h12M1766,1926V1916M1760,1916h12M1760,1926h12M1815,1709V1649M1809,1649h12M1809,1709h12M1839,1877V1845M1833,1845h12M1833,1877h12M1864,1695V1661M1858,1661h12M1858,1695h12M1888,1839V1817M1882,1817h12M1882,1839h12"/>
<circle class="d" cx="1686" cy="1870" r="5"/><circle class="d" cx="1692" cy="1881.3" r="5"/><circle class="d" cx="1699" cy="1872" r="5"/>
<circle class="d" cx="1710" cy="1932" r="5"/><circle class="d" cx="1718" cy="1925.3" r="5"/><circle class="d" cx="1724" cy="1930" r="5"/>
<circle class="d" cx="1735" cy="1873.3" r="5"/><circle class="d" cx="1741" cy="1883.3" r="5"/><circle class="d" cx="1748" cy="1872" r="5"/>
<circle class="d" cx="1759" cy="1923.3" r="5"/><circle class="d" cx="1765" cy="1914.7" r="5"/><circle class="d" cx="1772" cy="1921.3" r="5"/>
<circle class="d" cx="1815" cy="1648.7" r="5"/><circle class="d" cx="1815" cy="1688" r="5"/><circle class="d" cx="1815" cy="1708.7" r="5"/>
<circle class="d" cx="1839" cy="1844.7" r="5"/><circle class="d" cx="1832" cy="1870" r="5"/><circle class="d" cx="1846" cy="1866.7" r="5"/>
<circle class="d" cx="1864" cy="1660" r="5"/><circle class="d" cx="1864" cy="1685.3" r="5"/><circle class="d" cx="1864" cy="1694.7" r="5"/>
<circle class="d" cx="1888" cy="1816.7" r="5"/><circle class="d" cx="1881" cy="1833.3" r="5"/><circle class="d" cx="1895" cy="1830" r="5"/>
<path class="ax" d="M1668,1609V1949M1656,1947H1915M1656,1611H1668M1656,1678.2H1668M1656,1745.4H1668M1656,1812.6H1668M1656,1879.8H1668"/>
<text class="tk" x="1649" y="1619.5">250</text><text class="tk" x="1649" y="1686.7">200</text><text class="tk" x="1649" y="1753.9">150</text><text class="tk" x="1649" y="1821.1">100</text><text class="tk" x="1649" y="1888.3">50</text><text class="tk" x="1649" y="1955.5">0</text>
<path class="br" d="M1692,1859V1852H1717V1859M1741,1859V1852H1766V1859M1815,1637V1630H1839V1637M1864,1637V1630H1888V1637"/>
<text class="st" x="1704" y="1854">**</text><text class="sy" x="1753" y="1845">##</text><text class="sy" x="1827" y="1622">&amp;&amp;</text><text class="sy" x="1876" y="1622">$$</text>
<text class="tt" transform="translate(1588,1780) rotate(-90)">Colony number</text>
<text class="lb" x="1667" y="1984">GLUT1 KO</text>
<text class="lb" x="1667" y="2024">Flag-rGLUT1 WT</text>
<text class="lb" x="1667" y="2062">Flag-rGLUT1 C207S</text>
<text class="sg" x="1692 1717 1741 1766 1815 1839 1864 1888" y="1983">-+++-+++</text>
<text class="sg" x="1692 1717 1741 1766 1815 1839 1864 1888" y="2023">--+---+-</text>
<text class="sg" x="1692 1717 1741 1766 1815 1839 1864 1888" y="2061">---+---+</text>
<path class="ul" d="M1683,2071H1779M1802,2071H1900"/>
<text class="cl" x="1730" y="2099">U87</text><text class="cl" x="1852" y="2099">T98G</text>

<!-- ================= f images ================= -->
<text class="lb" x="854" y="1142">Flag-rDHHC9 C169S</text>
<text class="lb" x="854" y="1182">Flag-rDHHC9 WT</text>
<text class="lb" x="857" y="1221">DHHC9 KO</text>
<text class="sg" x="902 1042 1188 1329" y="1141">---+</text>
<text class="sg" x="902 1042 1188 1329" y="1181">--+-</text>
<text class="sg" x="902 1042 1188 1329" y="1220">-+++</text>
<text class="lb" x="825" y="1314">U87</text>
<text class="lb" x="826" y="1464">T98G</text>

<!-- f U87 plates -->
<ellipse cx="904" cy="1304" rx="64" ry="64" fill="#ece9f8" stroke="#6f66c8" stroke-width="2.5"/>
<rect x="840" y="1240" width="128" height="128" fill="#fff" clip-path="url(#ell)" filter="url(#fud)"/>
<ellipse cx="1045" cy="1304" rx="65" ry="64" fill="#f6f5fb" stroke="#9d97d4" stroke-width="2.5"/>
<rect x="980" y="1240" width="130" height="128" fill="#fff" clip-path="url(#ell)" filter="url(#fus)"/>
<ellipse cx="1188" cy="1304" rx="64" ry="64" fill="#ece9f8" stroke="#6f66c8" stroke-width="2.5"/>
<rect x="1124" y="1240" width="128" height="128" fill="#fff" clip-path="url(#ell)" filter="url(#fud)"/>
<ellipse cx="1331" cy="1305" rx="66" ry="64" fill="#f6f5fb" stroke="#9d97d4" stroke-width="2.5"/>
<rect x="1265" y="1241" width="132" height="128" fill="#fff" clip-path="url(#ell)" filter="url(#fus)"/>
<!-- f T98G plates -->
<ellipse cx="904" cy="1453" rx="65" ry="65" fill="#eeebf8" stroke="#4a40b8" stroke-width="2.5"/>
<rect x="839" y="1388" width="130" height="130" fill="#fff" clip-path="url(#ell)" filter="url(#ftd)"/>
<ellipse cx="1045" cy="1453" rx="65" ry="65" fill="#f5f4fa" stroke="#a7a2d4" stroke-width="2.5"/>
<rect x="980" y="1388" width="130" height="130" fill="#fff" clip-path="url(#ell)" filter="url(#fts)"/>
<ellipse cx="1189" cy="1453" rx="66" ry="65" fill="#eeebf8" stroke="#4a40b8" stroke-width="2.5"/>
<rect x="1123" y="1388" width="132" height="130" fill="#fff" clip-path="url(#ell)" filter="url(#ftd)"/>
<ellipse cx="1330" cy="1453" rx="65" ry="65" fill="#f5f4fa" stroke="#a7a2d4" stroke-width="2.5"/>
<rect x="1265" y="1388" width="130" height="130" fill="#fff" clip-path="url(#ell)" filter="url(#fts)"/>

<!-- ================= g images ================= -->
<text class="lb" x="851" y="1652">Flag-rGLUT1 C207S</text>
<text class="lb" x="851" y="1690">Flag-rGLUT1 WT</text>
<text class="lb" x="851" y="1729">GLUT1 KO</text>
<text class="sg" x="902 1044 1192 1335" y="1651">---+</text>
<text class="sg" x="902 1044 1192 1335" y="1689">--+-</text>
<text class="sg" x="902 1044 1192 1335" y="1728">-+++</text>
<text class="lb" x="817" y="1820">U87</text>
<text class="lb" x="818" y="1970">T98G</text>

<!-- g U87 plates -->
<ellipse cx="902" cy="1809" rx="66" ry="65" fill="#ece9f8" stroke="#6f66c8" stroke-width="2.5"/>
<rect x="836" y="1744" width="132" height="130" fill="#fff" clip-path="url(#ell)" filter="url(#fud)"/>
<ellipse cx="1046" cy="1809" rx="65" ry="65" fill="#f6f5fb" stroke="#9d97d4" stroke-width="2.5"/>
<rect x="981" y="1744" width="130" height="130" fill="#fff" clip-path="url(#ell)" filter="url(#fus)"/>
<ellipse cx="1191" cy="1809" rx="67" ry="65" fill="#ece9f8" stroke="#6f66c8" stroke-width="2.5"/>
<rect x="1124" y="1744" width="134" height="130" fill="#fff" clip-path="url(#ell)" filter="url(#fud)"/>
<ellipse cx="1336" cy="1809" rx="66" ry="65" fill="#f6f5fb" stroke="#9d97d4" stroke-width="2.5"/>
<rect x="1270" y="1744" width="132" height="130" fill="#fff" clip-path="url(#ell)" filter="url(#fus)"/>
<!-- g T98G plates -->
<ellipse cx="900" cy="1958" rx="66" ry="66" fill="#eeebf8" stroke="#4a40b8" stroke-width="2.5"/>
<rect x="834" y="1892" width="132" height="132" fill="#fff" clip-path="url(#ell)" filter="url(#ftd)"/>
<ellipse cx="1045" cy="1958" rx="66" ry="66" fill="#f5f4fa" stroke="#a7a2d4" stroke-width="2.5"/>
<rect x="979" y="1892" width="132" height="132" fill="#fff" clip-path="url(#ell)" filter="url(#fts)"/>
<ellipse cx="1191" cy="1958" rx="67" ry="67" fill="#eeebf8" stroke="#4a40b8" stroke-width="2.5"/>
<rect x="1124" y="1891" width="134" height="134" fill="#fff" clip-path="url(#ell)" filter="url(#ftd)"/>
<ellipse cx="1336" cy="1958" rx="66" ry="66" fill="#f5f4fa" stroke="#a7a2d4" stroke-width="2.5"/>
<rect x="1270" y="1892" width="132" height="132" fill="#fff" clip-path="url(#ell)" filter="url(#fts)"/>
</svg>
</body></html>
